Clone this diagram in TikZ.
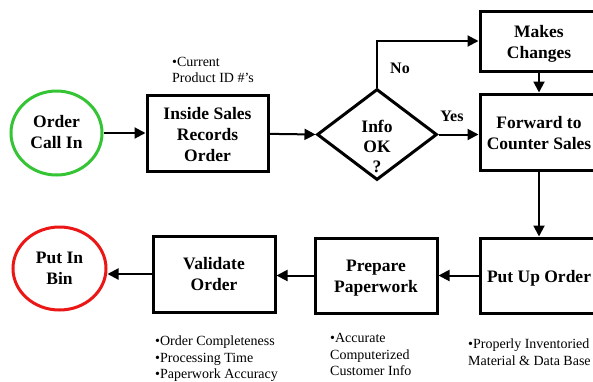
\documentclass[tikz,border=0pt]{standalone}
\usepackage{fontspec}
\setmainfont{Liberation Serif}
\usetikzlibrary{arrows.meta,shapes.geometric}
\definecolor{okgreen}{RGB}{52,196,52}
\definecolor{binred}{RGB}{235,22,22}
\newcommand{\lowtxt}[2][-2.5pt]{\raisebox{#1}[\height][\depth]{\begin{tabular}{@{}c@{}}#2\end{tabular}}}
\tikzset{
  box/.style={draw=black,line width=3pt,minimum width=#1,minimum height=76pt,inner sep=0pt,
    font=\fontsize{17.5}{21}\selectfont\bfseries,align=center},
  box/.default=121pt,
  oval/.style={ellipse,line width=3pt,inner sep=0pt,
    font=\fontsize{17.5}{21}\selectfont\bfseries,align=center},
  conn/.style={line width=2pt,-{Triangle[length=11pt,width=11pt]}},
  note/.style={anchor=north west,inner sep=0pt,align=left,
    font=\fontsize{14}{16.5}\selectfont},
  yn/.style={font=\fontsize{16}{18}\selectfont\bfseries,inner sep=0pt}
}
\begin{document}
\begin{tikzpicture}[x=1pt,y=-1pt]
\useasboundingbox (0,0) rectangle (593,381);
% nodes
\node[oval,draw=okgreen,minimum width=91pt,minimum height=84pt] (oc) at (56.5,133) {\lowtxt[-1pt]{Order\\Call In}};
\node[box] (ins) at (207.5,133) {\lowtxt[-3pt]{Inside Sales\\Records\\Order}};
\node[diamond,draw=black,line width=3pt,minimum width=120pt,minimum height=91pt,inner sep=0pt,aspect=1.32] (dia) at (377,134.5) {};
\node[font=\fontsize{17.5}{20}\selectfont\bfseries,align=center,inner sep=0pt] (diat) at (377,146) {Info\\OK\\?};
\node[box=118pt,minimum height=60pt] (mk) at (539,41) {\lowtxt[-2.5pt]{Makes\\Changes}};
\node[box=118pt] (fw) at (539,132) {\lowtxt[-3pt]{Forward to\\Counter Sales}};
\node[box=118pt,minimum height=75pt] (pu) at (539,275.5) {\lowtxt[-3pt]{Put Up Order}};
\node[box=122pt,minimum height=75pt] (pp) at (376,275.5) {\lowtxt[-2.5pt]{Prepare\\Paperwork}};
\node[box=122pt] (vo) at (214,274) {\lowtxt[-2pt]{Validate\\Order}};
\node[oval,draw=binred,minimum width=93pt,minimum height=83pt] (bin) at (59.5,268.5) {\lowtxt[-1pt]{Put In\\Bin}};
% labels
\node[yn] (no) at (400,68) {No};
\node[yn] (yes) at (452,116) {Yes};
% notes
\node[note] (n1) at (172,57) {•Current\\Product ID \#’s};
\node[note] (n2) at (155,336) {•Order Completeness\\•Processing Time\\•Paperwork Accuracy};
\node[note] (n3) at (330,333.5) {•Accurate\\Computerized\\Customer Info};
\node[note] (n4) at (468,339) {•Properly Inventoried\\Material \& Data Base};
% connectors
\draw[conn] (oc) -- (ins);
\draw[conn] (ins) -- (dia.west);
\draw[conn] (dia.east) -- (fw.west |- dia.east);
\draw[conn] (dia.north) |- (mk.west);
\draw[conn] (mk) -- (fw);
\draw[conn] (fw) -- (pu);
\draw[conn] (pu) -- (pp);
\draw[conn] (pp) -- (vo.east |- pp.west);
\draw[conn] (vo) -- (bin.east |- vo.west);
\end{tikzpicture}
\end{document}
